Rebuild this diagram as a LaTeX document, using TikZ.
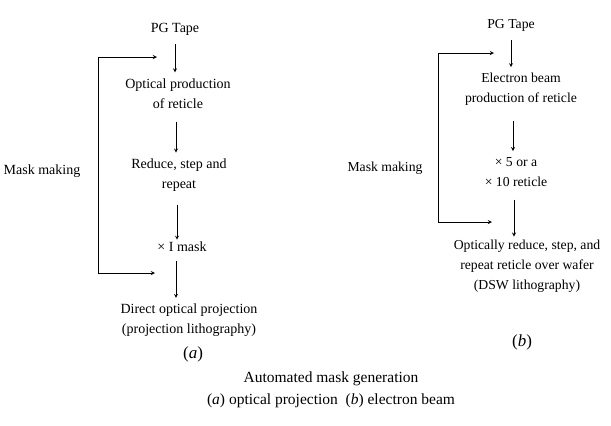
\documentclass[tikz,border=0pt]{standalone}
\usepackage{fontspec}
\setmainfont{Liberation Serif}
\usetikzlibrary{positioning}

\tikzset{
    stage/.style={align=center, font=\fontsize{14}{20}\selectfont, inner sep=2pt},
    stage b/.style={stage, font=\fontsize{13.7}{20}\selectfont},
    title/.style={stage, font=\fontsize{15.5}{22}\selectfont},
    tag/.style={stage, font=\fontsize{17}{20}\selectfont},
    flow/.style={-stealth, line width=0.8pt, shorten <=7pt, shorten >=4pt},
    loopback/.style={-stealth, line width=0.9pt}
}

\begin{document}
\begin{tikzpicture}[x=1pt, y=-1pt]
    \useasboundingbox (0,0) rectangle (611,426);

    % (a)
    \node[stage]                                (Tape A)     at (175,29) {PG Tape};
    \node[stage, below=39pt of Tape A, xshift=3pt]    (Optical A)  {Optical production\\of reticle};
    \node[stage, below=46pt of Optical A, xshift=1pt] (Reduce A)   {Reduce, step and\\repeat};
    \node[stage, below=46pt of Reduce A, xshift=3pt]  (Mask A)     {× I mask};
    \node[stage, below=48pt of Mask A, xshift=7pt]    (Direct A)   {Direct optical projection\\(projection lithography)};
    \node[tag, below=5pt of Direct A, xshift=4pt]     (Label A)    {(\textit{a})};
    \node[stage]                                (Making A)   at (42,171) {Mask making};

    \coordinate (Top A)    at (157,57);
    \coordinate (Corner A) at (98,273);
    \coordinate (Bottom A) at (155,273);

    \draw[flow] (Tape A.south) -- (Tape A.south |- Optical A.north);
    \draw[flow, shorten <=11pt] ([xshift=-2pt]Optical A.south) -- ([xshift=-2pt]Optical A.south |- Reduce A.north);
    \draw[flow, shorten <=11pt, shorten >=0pt] ([xshift=-2pt]Reduce A.south) -- ([xshift=-2pt]Reduce A.south |- Mask A.north);
    \draw[flow] ([xshift=-6pt]Mask A.south) -- ([xshift=-6pt]Mask A.south |- Direct A.north);
    \draw[loopback] (Corner A) -- (Corner A |- Top A) -- (Top A);
    \draw[loopback] (Corner A) -- (Bottom A);

    % (b)
    \node[stage b]                                (Tape B)     at (511,25) {PG Tape};
    \node[stage b, below=38pt of Tape B, xshift=10pt]   (Beam B)     {Electron beam\\production of reticle};
    \node[stage b, below=47pt of Beam B, xshift=-5pt]   (Reticle B)  {× 5 or a\\× 10 reticle};
    \node[stage b, below=49pt of Reticle B, xshift=11pt] (Wafer B)   {Optically reduce, step, and\\repeat reticle over wafer\\(DSW lithography)};
    \node[tag, below=38pt of Wafer B, xshift=-5pt]      (Label B)    {(\textit{b})};
    \node[stage b]                                (Making B)   at (385,168) {Mask making};

    \coordinate (Top B)    at (494,53);
    \coordinate (Corner B) at (438,222);
    \coordinate (Bottom B) at (492,222);

    \draw[flow] (Tape B.south) -- (Tape B.south |- Beam B.north);
    \draw[flow, shorten <=13pt] ([xshift=-8pt]Beam B.south) -- ([xshift=-8pt]Beam B.south |- Reticle B.north);
    \draw[flow, shorten <=11pt, shorten >=1pt] ([xshift=-2pt]Reticle B.south) -- ([xshift=-2pt]Reticle B.south |- Wafer B.north);
    \draw[loopback] (Corner B) -- (Corner B |- Top B) -- (Top B);
    \draw[loopback] (Corner B) -- (Bottom B);

    % caption
    \node[title] (Caption) at (331,390) {Automated mask generation\\(\textit{a}) optical projection\ \ (\textit{b}) electron beam};
\end{tikzpicture}
\end{document}
